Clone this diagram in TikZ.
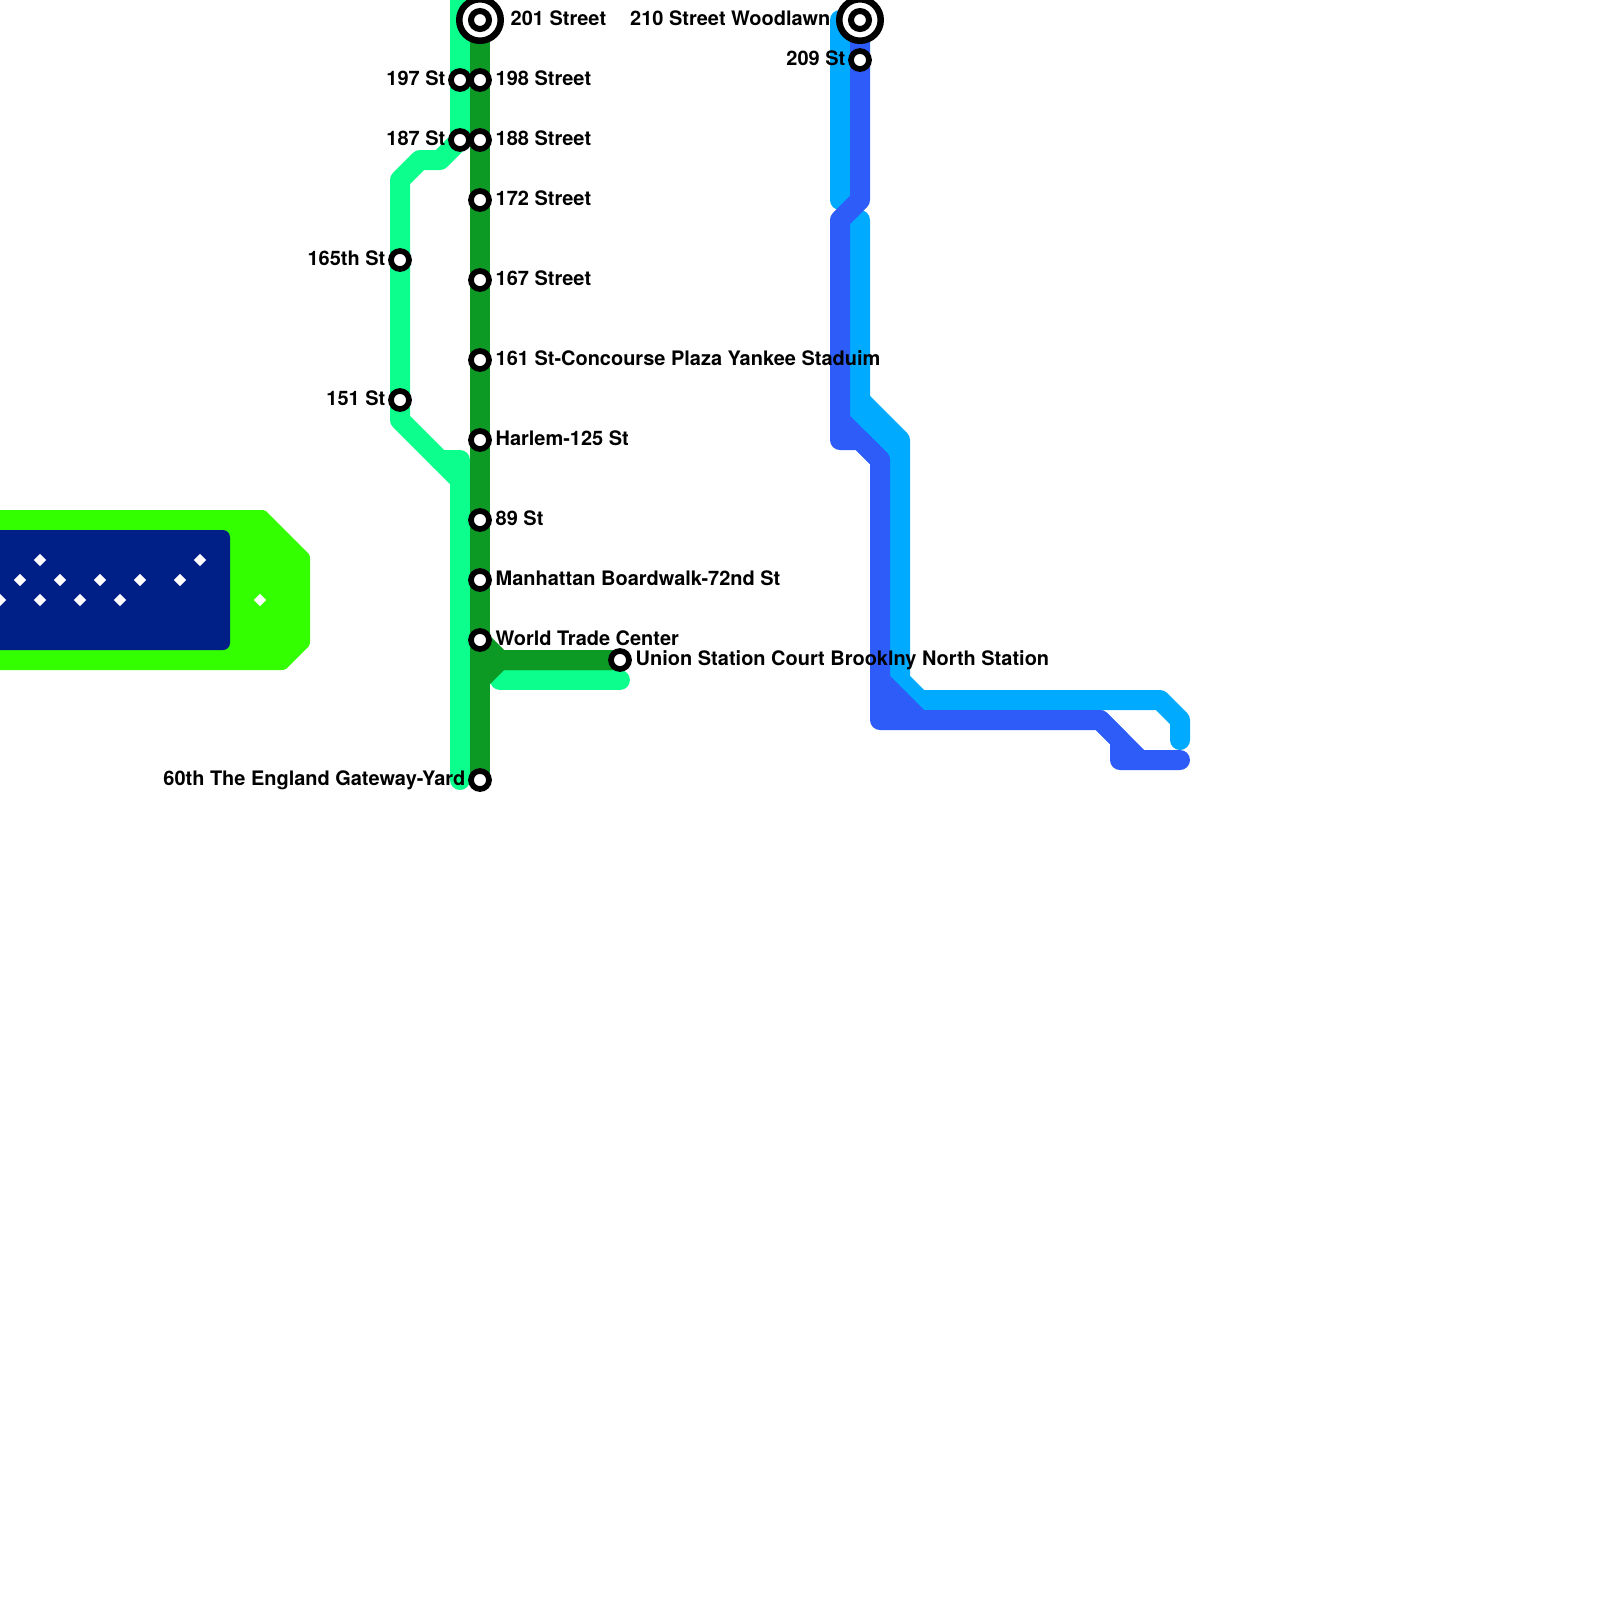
\documentclass[tikz,border=0pt]{standalone}
\usepackage{fontspec}
\setmainfont{TeX Gyre Heros}
\usetikzlibrary{shapes.geometric,backgrounds}
\definecolor{lightgreen}{HTML}{0CFF8C}
\definecolor{darkgreen}{HTML}{0C9A24}
\definecolor{lightblue}{HTML}{00AAFF}
\definecolor{darkblue}{HTML}{2D5CF8}
\definecolor{limeblock}{HTML}{33FF00}
\definecolor{navyblock}{HTML}{002088}

\begin{document}
\begin{tikzpicture}[
    x=0.2cm, y=-0.2cm,
    route/.style={line width=0.2cm, line cap=round, line join=round},
    stn/.style={circle, draw=black, fill=white, line width=0.057cm, minimum size=0.18cm, inner sep=0pt},
    endstn/.style={circle, draw=black, fill=white, line width=0.065cm, minimum size=0.415cm, inner sep=0pt},
    endcore/.style={circle, draw=black, fill=white, line width=0.06cm, minimum size=0.18cm, inner sep=0pt},
    txtr/.style={anchor=base west, inner sep=0pt, font=\bfseries\fontsize{5.68pt}{6pt}\selectfont},
    txtl/.style={anchor=base east, inner sep=0pt, font=\bfseries\fontsize{5.68pt}{6pt}\selectfont},
    spot/.style={diamond, fill=white, minimum size=0.13cm, inner sep=0pt}
]
    \useasboundingbox (0,0) rectangle (80,80);
    \clip (0,0) rectangle (80,80);

    % block on the left
    \fill[limeblock, rounded corners=0.5pt] (-2,25.5) -- (13.25,25.5) -- (15.5,27.75) -- (15.5,32.25) -- (14.25,33.5) -- (-2,33.5) -- cycle;
    \fill[navyblock, rounded corners=0.07cm] (-2,26.5) rectangle (11.5,32.5);
    \foreach \px/\py [count=\i] in {2/28,1/29,3/29,5/29,7/29,9/29,10/28,0/30,2/30,4/30,6/30,13/30}
        \node[spot] (spot\i) at (\px,\py) {};

    % stations
    \node[endstn] (s201) at (24,1) {};
    \node[endcore] (s201c) at (24,1) {};
    \node[stn] (s198) at (24,4) {};
    \node[stn] (s188) at (24,7) {};
    \node[stn] (s172) at (24,10) {};
    \node[stn] (s167) at (24,14) {};
    \node[stn] (s161) at (24,18) {};
    \node[stn] (sharlem) at (24,22) {};
    \node[stn] (s89) at (24,26) {};
    \node[stn] (smanh) at (24,29) {};
    \node[stn] (swtc) at (24,32) {};
    \node[stn] (sgate) at (24,39) {};
    \node[stn] (sunion) at (31,33) {};
    \node[stn] (s197) at (23,4) {};
    \node[stn] (s187) at (23,7) {};
    \node[stn] (s165) at (20,13) {};
    \node[stn] (s151) at (20,20) {};
    \node[endstn] (s210) at (43,1) {};
    \node[endcore] (s210c) at (43,1) {};
    \node[stn] (s209) at (43,3) {};

    % routes
    \begin{scope}[on background layer]
        \draw[route, lightgreen] (23,-1) -- (s197.center) -- (s187.center) -- (22,8) -- (21,8) -- (20,9) -- (s165.center) -- (s151.center) -- (20,21) -- (22,23) -- (23,23) -- (23,39);
        \draw[route, lightgreen] (22,23) -- (23,24);
        \draw[route, lightgreen] (25,34) -- (31,34);
        \draw[route, darkgreen] (s201.center) -- (swtc.center) -- (sgate.center);
        \draw[route, darkgreen] (swtc.center) -- (25,33) -- (sunion.center);
        \draw[route, darkgreen] (sunion.center) -- (25,33) -- (24,34);
        \draw[route, lightblue] (42,1) -- (42,10);
        \draw[route, lightblue] (43,11) -- (43,21) -- (45,23);
        \draw[route, lightblue] (43,20) -- (45,22) -- (45,34) -- (46,35) -- (58,35) -- (59,36) -- (59,37);
        \draw[route, darkblue] (s210.center) -- (s209.center) -- (43,10) -- (42,11) -- (42,22) -- (43,22) -- (44,23);
        \draw[route, darkblue] (42,21) -- (44,23) -- (44,36) -- (55,36) -- (56,37) -- (56,38) -- (59,38);
        \draw[route, darkblue] (44,34) -- (46,36);
        \draw[route, darkblue] (44,35) -- (45,36);
        \draw[route, darkblue] (55,36) -- (57,38);
    \end{scope}

    % labels
    \node[txtr] (t201) at (25.5,1.25) {201 Street};
    \node[txtr] (t198) at (24.75,4.25) {198 Street};
    \node[txtr] (t188) at (24.75,7.25) {188 Street};
    \node[txtr] (t172) at (24.75,10.25) {172 Street};
    \node[txtr] (t167) at (24.75,14.25) {167 Street};
    \node[txtr] (t161) at (24.75,18.25) {161 St-Concourse Plaza Yankee Staduim};
    \node[txtr] (tharlem) at (24.75,22.25) {Harlem-125 St};
    \node[txtr] (t89) at (24.75,26.25) {89 St};
    \node[txtr] (tmanh) at (24.75,29.25) {Manhattan Boardwalk-72nd St};
    \node[txtr] (twtc) at (24.75,32.25) {World Trade Center};
    \node[txtr] (tunion) at (31.75,33.25) {Union Station Court Brooklny North Station};
    \node[txtl] (tgate) at (23.3,39.25) {60th The England Gateway-Yard};
    \node[txtl] (t197) at (22.3,4.25) {197 St};
    \node[txtl] (t187) at (22.3,7.25) {187 St};
    \node[txtl] (t165) at (19.3,13.25) {165th St};
    \node[txtl] (t151) at (19.3,20.25) {151 St};
    \node[txtl] (t210) at (41.55,1.25) {210 Street Woodlawn};
    \node[txtl] (t209) at (42.3,3.25) {209 St};
\end{tikzpicture}
\end{document}
